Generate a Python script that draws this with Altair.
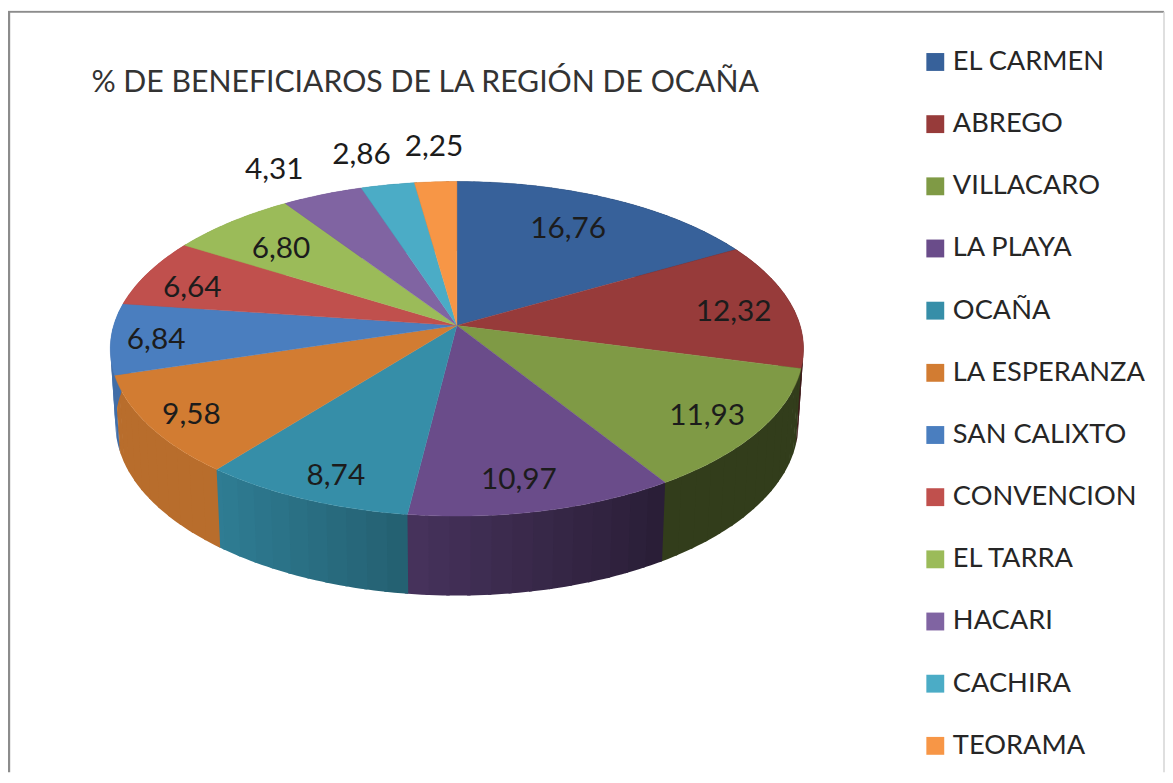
import math
import altair as alt
import pandas as pd

NAMES = ["EL CARMEN", "ABREGO", "VILLACARO", "LA PLAYA", "OCAÑA", "LA ESPERANZA",
         "SAN CALIXTO", "CONVENCION", "EL TARRA", "HACARI", "CACHIRA", "TEORAMA"]
VALUES = [16.76, 12.32, 11.93, 10.97, 8.74, 9.58, 6.84, 6.64, 6.80, 4.31, 2.86, 2.25]
COLORS = ["#37619a", "#973b3a", "#7f9a45", "#6a4c8a", "#368ea8", "#d27c32",
          "#4a7ebf", "#c0504d", "#9bbb59", "#8064a2", "#4bacc6", "#f79646"]
TITLE = "% DE BENEFICIAROS DE LA REGIÓN DE OCAÑA"

# label placement: radial distance as a share of the disc radius, and a small
# shift along the circle in percentage points of the pie
LABEL_RADIUS = [0.73, 0.82, 0.85, 0.85, 0.87, 0.88, 0.87, 0.83, 0.74, 1.255, 1.26, 1.287]
LABEL_SHIFT = [-0.35, 0.45, 0.3, 0.5, -0.5, -0.3, -0.3, -0.9, -0.45, -0.86, -0.47, 0.15]

# picture geometry of the tilted disc, in chart pixels
CX, CY, AX, BY, K = 452.0, 317.0, 345.6, 165.2, 0.1395
FONT = "Lato"
BAND = 3  # degrees of rim per shaded band on the side wall


def rim(theta, r=1.0):
    X, Y = r * math.sin(theta), r * math.cos(theta)
    d = 1 + K * Y
    return CX + AX * X / d, CY - BY * Y / d


def lower(theta):
    x, y = rim(theta)
    return CX + (x - CX) * 0.985, y + 75 - 5 * math.cos(theta)


def shade(color, f):
    c = [int(color[i:i + 2], 16) for i in (1, 3, 5)]
    return "#" + "".join(f"{min(255, int(v * f)):02x}" for v in c)


tops, walls, labels = [], [], []
start = 0.0
for name, value, color, lr, ls in zip(NAMES, VALUES, COLORS, LABEL_RADIUS, LABEL_SHIFT):
    a0 = start / 100 * 2 * math.pi
    a1 = (start + value) / 100 * 2 * math.pi
    n = max(2, int((a1 - a0) / math.radians(1)))
    arc = [a0 + (a1 - a0) * i / n for i in range(n + 1)]
    ring = [[CX, CY]] + [list(rim(t)) for t in arc] + [[CX, CY]]
    tops.append({"type": "Feature", "properties": {"name": name},
                 "geometry": {"type": "Polygon", "coordinates": [ring]}})
    for i in range(0, n, BAND):
        part = arc[i:i + BAND + 1]
        mid_t = (part[0] + part[-1]) / 2
        f = max(0.40, min(0.88, 0.62 - 0.42 * math.sin(mid_t)))
        # each band runs a little under the next one, so no seam shows
        part = part + [part[-1] + math.radians(0.5)]
        quad = [list(rim(t)) for t in part] + [list(lower(t)) for t in reversed(part)]
        quad.append(quad[0])
        walls.append({"type": "Feature", "properties": {"c": shade(color, f)},
                      "geometry": {"type": "Polygon", "coordinates": [quad]}})
    mid = (start + value / 2 + ls) / 100 * 2 * math.pi
    lx, ly = rim(mid, lr)
    labels.append({"lon": lx, "lat": ly, "text": f"{value:.2f}".replace(".", ",")})
    start += value


def geo(features):
    return alt.Data(values={"type": "FeatureCollection", "features": features},
                    format=alt.DataFormat(property="features", type="json"))


def polyline(points):
    return [{"type": "Feature", "properties": {},
             "geometry": {"type": "LineString", "coordinates": points}}]


frame = alt.Chart(geo(polyline([[1, 790], [1, 1], [1164, 1]]))).mark_geoshape(
    filled=False, stroke="#8c8c8c", strokeWidth=2.4)
frame_right = alt.Chart(geo(polyline([[1164, 1], [1164, 790]]))).mark_geoshape(
    filled=False, stroke="#d4d4d4", strokeWidth=1.5)

wall_layer = alt.Chart(geo(walls)).mark_geoshape(strokeWidth=0).encode(
    fill=alt.Fill("properties.c:N", scale=None),
)

top_layer = alt.Chart(geo(tops)).mark_geoshape(strokeWidth=0.4).encode(
    fill=alt.Fill(
        "properties.name:N",
        scale=alt.Scale(domain=NAMES, range=COLORS),
        sort=NAMES,
        legend=alt.Legend(
            title=None, orient="none", legendX=920, legendY=38,
            symbolType="square", symbolSize=324, symbolStrokeWidth=0,
            labelFont=FONT, labelFontSize=27.4, labelColor="#262626",
            labelOffset=4, rowPadding=33.6, labelLimit=260,
        ),
    ),
    stroke=alt.Stroke("properties.name:N",
                      scale=alt.Scale(domain=NAMES, range=COLORS), legend=None),
)

label_layer = alt.Chart(pd.DataFrame(labels)).mark_text(
    font=FONT, fontSize=30, color="#1c1c1c", align="center", baseline="middle"
).encode(longitude="lon:Q", latitude="lat:Q", text="text:N")

chart = alt.layer(wall_layer, top_layer, frame, frame_right, label_layer).project(
    type="identity", scale=1, translate=[0, 0]
).properties(
    width=1165, height=767, padding=0,
    autosize=alt.AutoSizeParams(type="none"),
    title=alt.TitleParams(
        TITLE, anchor="start", frame="group", dx=84, offset=-112, baseline="alphabetic",
        font=FONT, fontSize=30.4, fontWeight="normal", color="#333333",
    ),
    background="white",
).configure_view(stroke=None)

chart.save("out.html", embed_options={"renderer": "svg", "actions": False})
